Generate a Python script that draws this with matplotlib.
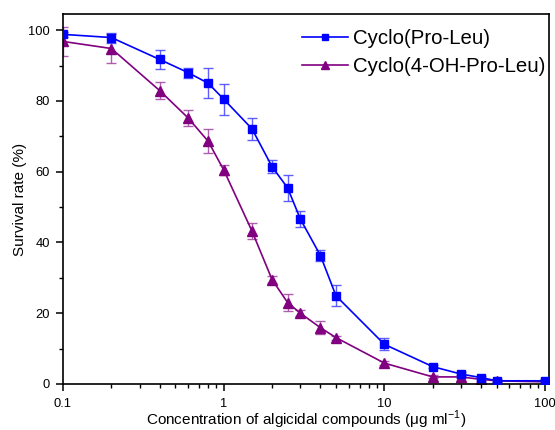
import matplotlib
matplotlib.use("Agg")
import matplotlib.pyplot as plt
from matplotlib.ticker import FixedLocator, FixedFormatter, MultipleLocator, LogLocator, NullFormatter

plt.rcParams['font.family'] = ['Liberation Sans', 'DejaVu Sans']
plt.rcParams['mathtext.fontset'] = 'custom'
plt.rcParams['mathtext.rm'] = 'Liberation Sans'

conc = [0.1, 0.2, 0.4, 0.6, 0.8, 1, 1.5, 2, 2.5, 3, 4, 5, 10, 20, 30, 40, 50, 100]

pro_leu = [98.8, 97.9, 91.7, 88.0, 85.0, 80.5, 72.1, 61.4, 55.4, 46.6, 36.3, 24.9, 11.2, 4.9, 2.8, 1.8, 0.9, 0.9]
pro_leu_err = [0.8, 1.4, 2.8, 1.4, 4.3, 4.4, 3.1, 1.8, 3.6, 2.2, 1.6, 3.0, 1.7, 0.5, 0.5, 0.5, 0.4, 0.4]

oh_pro_leu = [96.8, 94.8, 82.9, 75.2, 68.6, 60.5, 43.2, 29.5, 23.0, 20.0, 15.9, 13.1, 5.9, 2.0, 2.0, 1.3, 0.9, 0.6]
oh_pro_leu_err = [4.1, 4.0, 2.5, 2.3, 3.4, 1.4, 2.3, 1.0, 2.5, 0.8, 1.9, 0.6, 0.6, 0.4, 0.4, 0.4, 0.3, 0.3]

labels = ['Cyclo(Pro-Leu)', 'Cyclo(4-OH-Pro-Leu)']
x_ticks = [0.1, 1, 10, 100]
x_ticklabels = ['0.1', '1', '10', '100']
y_ticks = [0, 20, 40, 60, 80, 100]

fig = plt.figure(figsize=(5.55, 4.30), dpi=100)
ax = fig.add_axes([0.1135, 0.107, 0.876, 0.860])

blue = '#0000FF'
purple = '#800080'

ax.errorbar(conc, pro_leu, yerr=pro_leu_err, color=blue, marker='s', markersize=5.5,
            linewidth=1.2, ecolor=(0.3, 0.3, 1.0, 0.9), elinewidth=1.0, capsize=3.5,
            capthick=1.0, label=labels[0], zorder=3)
ax.errorbar(conc, oh_pro_leu, yerr=oh_pro_leu_err, color=purple, marker='^', markersize=6.5,
            linewidth=1.2, ecolor=(0.65, 0.3, 0.65, 0.9), elinewidth=1.0, capsize=3.5,
            capthick=1.0, label=labels[1], zorder=2)

ax.set_xscale('log')
ax.set_xlim(0.1, 106)
ax.set_ylim(0, 104.5)

ax.xaxis.set_major_locator(FixedLocator(x_ticks))
ax.xaxis.set_major_formatter(FixedFormatter(x_ticklabels))
ax.xaxis.set_minor_locator(LogLocator(base=10, subs=range(2, 10), numticks=20))
ax.xaxis.set_minor_formatter(NullFormatter())
ax.yaxis.set_major_locator(FixedLocator(y_ticks))
ax.yaxis.set_minor_locator(MultipleLocator(10))

ax.tick_params(axis='both', which='major', direction='out', length=5, width=1.1,
               labelsize=9.3, top=False, right=False)
ax.tick_params(axis='x', which='major', pad=4.8)
ax.tick_params(axis='y', which='major', pad=4.3)
ax.tick_params(axis='both', which='minor', direction='out', length=3, width=1.0,
               top=False, right=False)

for sp in ax.spines.values():
    sp.set_linewidth(1.2)

ax.set_xlabel('Concentration of algicidal compounds (μg ml$^{\\mathregular{-1}}$)', fontsize=11, labelpad=-0.4)
ax.set_ylabel('Survival rate (%)', fontsize=11, labelpad=1)

handles, lbls = ax.get_legend_handles_labels()
handles = [h[0] for h in handles]
leg = ax.legend(handles, lbls, loc='upper right', bbox_to_anchor=(1.004, 0.976),
                frameon=False, fontsize=14.7,
                handlelength=2.25, handletextpad=0.25, labelspacing=0.42,
                borderpad=0.2, borderaxespad=0.1, markerscale=0.8)

fig.savefig('out.png', dpi=100)
